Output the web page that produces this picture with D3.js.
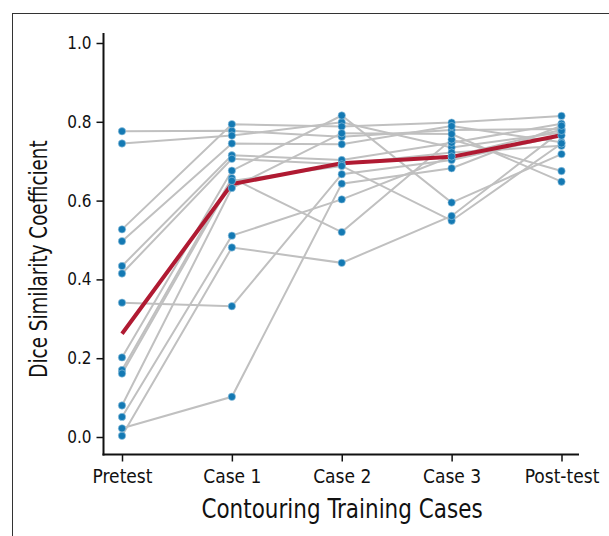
<!DOCTYPE html>
<html lang="en">
<head>
    <meta charset="UTF-8">
    <title>Dice Similarity Coefficient by training case</title>
    <script src="https://d3js.org/d3.v7.min.js"></script>
    <style>
        body { margin: 0; background: #fff; }
        svg text { font-family: "Liberation Sans Narrow", "DejaVu Sans Condensed", sans-serif; fill: #111; }
    </style>
</head>
<body>
    <div id="chart"></div>
    <script>
        // stages along the x axis
        const stages = ["Pretest", "Case 1", "Case 2", "Case 3", "Post-test"];
        const yTicks = [0.0, 0.2, 0.4, 0.6, 0.8, 1.0];

        // one value per trainee (same order in every array)
        const pretest  = [0.776, 0.745, 0.527, 0.497, 0.434, 0.415, 0.341, 0.202, 0.170, 0.161, 0.080, 0.051, 0.003, 0.022];
        const case1    = [0.777, 0.765, 0.794, 0.745, 0.715, 0.706, 0.332, 0.676, 0.657, 0.650, 0.632, 0.511, 0.481, 0.102];
        const case2    = [0.762, 0.799, 0.788, 0.743, 0.703, 0.692, 0.667, 0.816, 0.520, 0.688, 0.771, 0.603, 0.442, 0.643];
        const case3    = [0.779, 0.735, 0.798, 0.789, 0.747, 0.722, 0.703, 0.595, 0.755, 0.549, 0.769, 0.712, 0.561, 0.682];
        const posttest = [0.782, 0.773, 0.815, 0.748, 0.795, 0.739, 0.765, 0.718, 0.675, 0.745, 0.648, 0.780, 0.777, 0.790];

        // group mean
        const meanDsc = [0.262, 0.642, 0.695, 0.711, 0.766];

        const columns = [pretest, case1, case2, case3, posttest];
        const trainees = pretest.map((_, i) => columns.map((col, j) => ({ stage: stages[j], value: col[i] })));
        const meanLine = meanDsc.map((v, j) => ({ stage: stages[j], value: v }));

        const width = 609, height = 536;

        const svg = d3.select("#chart").append("svg")
            .attr("width", width)
            .attr("height", height);

        // outer frame (cut off at right and bottom)
        svg.append("rect")
            .attr("x", 12.5).attr("y", 13.5)
            .attr("width", 640).attr("height", 600)
            .attr("fill", "none")
            .attr("stroke", "#333")
            .attr("stroke-width", 1);

        const x = d3.scalePoint().domain(stages).range([122, 561.5]);
        const y = d3.scaleLinear().domain([0, 1]).range([437, 43]);

        const axisX = 103.5, axisY = 454.5;

        // axes
        const gy = svg.append("g")
            .attr("transform", `translate(${axisX},0)`)
            .call(d3.axisLeft(y).tickValues(yTicks).tickFormat(d3.format(".1f")).tickSize(7).tickPadding(5));
        gy.select(".domain").remove();
        gy.selectAll(".tick line").attr("stroke", "#111").attr("stroke-width", 1.5);
        gy.selectAll(".tick text").attr("font-size", 17).attr("fill", "#111");
        svg.append("line")
            .attr("x1", axisX).attr("x2", axisX)
            .attr("y1", 33).attr("y2", axisY + 1)
            .attr("stroke", "#111").attr("stroke-width", 2);

        const gx = svg.append("g")
            .attr("transform", `translate(0,${axisY})`)
            .call(d3.axisBottom(x).tickSize(7).tickPadding(8));
        gx.select(".domain").remove();
        gx.selectAll(".tick line").attr("stroke", "#111").attr("stroke-width", 1.5);
        gx.selectAll(".tick text").attr("font-size", 19).attr("fill", "#111");
        svg.append("line")
            .attr("x1", axisX - 1).attr("x2", 579)
            .attr("y1", axisY).attr("y2", axisY)
            .attr("stroke", "#111").attr("stroke-width", 2);

        // axis titles (squeezed a little to look condensed)
        svg.append("text")
            .attr("transform", "translate(342,518) scale(0.92,1)")
            .attr("text-anchor", "middle")
            .attr("font-size", 26)
            .text("Contouring Training Cases");

        svg.append("text")
            .attr("transform", "translate(47,259) rotate(-90) scale(0.85,1)")
            .attr("text-anchor", "middle")
            .attr("font-size", 24)
            .text("Dice Similarity Coefficient");

        const line = d3.line()
            .x(d => x(d.stage))
            .y(d => y(d.value));

        // individual trainees
        svg.append("g")
            .selectAll("path")
            .data(trainees)
            .join("path")
            .attr("d", line)
            .attr("fill", "none")
            .attr("stroke", "#c0c0c0")
            .attr("stroke-width", 2);

        // mean
        svg.append("path")
            .datum(meanLine)
            .attr("d", line)
            .attr("fill", "none")
            .attr("stroke", "#b01a32")
            .attr("stroke-width", 4);

        // points
        svg.append("g")
            .selectAll("circle")
            .data(trainees.flat())
            .join("circle")
            .attr("cx", d => x(d.stage))
            .attr("cy", d => y(d.value))
            .attr("r", 3.7)
            .attr("fill", "#1479b3")
            .attr("stroke", "#9cc8e0")
            .attr("stroke-width", 0.6);
    </script>
</body>
</html>
